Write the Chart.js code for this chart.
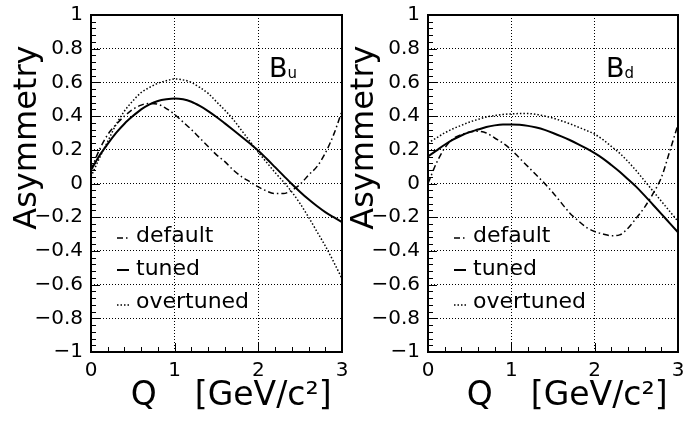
<!DOCTYPE html>
<html lang="en">
<head>
<meta charset="UTF-8">
<title>Asymmetry vs Q</title>
<script src="https://cdn.jsdelivr.net/npm/chart.js"></script>
<style>
  html, body { margin: 0; padding: 0; background: #fff; }
  .janela { position: relative; width: 684px; height: 424px; overflow: hidden; }
  #chartBu { position: absolute; left: 0; top: 0; }
  #chartBd { position: absolute; left: 337px; top: 0; }
</style>
</head>
<body>
<div class="janela">
  <canvas id="chartBu" width="350" height="424"></canvas>
  <canvas id="chartBd" width="347" height="424"></canvas>
</div>

<script>
var qValues = [0, 0.1, 0.2, 0.3, 0.4, 0.5, 0.6, 0.7, 0.8, 0.9,
               1.0, 1.1, 1.2, 1.3, 1.4, 1.5, 1.6, 1.7, 1.8, 1.9,
               2.0, 2.1, 2.2, 2.3, 2.4, 2.5, 2.6, 2.7, 2.8, 2.9, 3.0];

// B_u panel
var buDefault   = [0.08, 0.20, 0.29, 0.35, 0.40, 0.44, 0.465, 0.475, 0.47, 0.445,
                   0.41, 0.365, 0.32, 0.27, 0.22, 0.17, 0.13, 0.08, 0.04, 0.01,
                   -0.02, -0.045, -0.06, -0.06, -0.04, -0.005, 0.05, 0.10, 0.18, 0.29, 0.43];
var buTuned     = [0.08, 0.165, 0.235, 0.30, 0.355, 0.40, 0.44, 0.47, 0.49, 0.50,
                   0.505, 0.50, 0.485, 0.46, 0.43, 0.395, 0.357, 0.318, 0.278, 0.237,
                   0.195, 0.147, 0.097, 0.047, -0.003, -0.05, -0.094, -0.134, -0.17, -0.20, -0.23];
var buOvertuned = [0.04, 0.15, 0.25, 0.35, 0.43, 0.49, 0.54, 0.57, 0.595, 0.61,
                   0.62, 0.615, 0.60, 0.57, 0.535, 0.485, 0.435, 0.38, 0.315, 0.25,
                   0.185, 0.125, 0.065, 0.01, -0.05, -0.12, -0.20, -0.285, -0.37, -0.465, -0.565];

// B_d panel
var bdDefault   = [0.0, 0.12, 0.21, 0.265, 0.29, 0.305, 0.31, 0.30, 0.27, 0.24,
                   0.20, 0.15, 0.10, 0.05, 0.0, -0.055, -0.115, -0.175, -0.22, -0.26,
                   -0.285, -0.30, -0.31, -0.305, -0.265, -0.205, -0.14, -0.06, 0.035, 0.19, 0.35];
var bdTuned     = [0.16, 0.195, 0.23, 0.26, 0.285, 0.305, 0.32, 0.335, 0.345, 0.35,
                   0.35, 0.348, 0.342, 0.332, 0.318, 0.30, 0.28, 0.258, 0.234, 0.208,
                   0.18, 0.148, 0.11, 0.07, 0.025, -0.02, -0.072, -0.126, -0.18, -0.235, -0.29];
var bdOvertuned = [0.24, 0.27, 0.30, 0.325, 0.345, 0.365, 0.38, 0.395, 0.403, 0.41,
                   0.413, 0.415, 0.415, 0.41, 0.40, 0.388, 0.372, 0.355, 0.335, 0.315,
                   0.293, 0.26, 0.22, 0.18, 0.13, 0.075, 0.015, -0.045, -0.105, -0.165, -0.225];

var xTicks = [0, 1, 2, 3];
var yTicks = [-1, -0.8, -0.6, -0.4, -0.2, 0, 0.2, 0.4, 0.6, 0.8, 1];
var seriesNames = ['default', 'tuned', 'overtuned'];

Chart.defaults.font.family = '"DejaVu Sans", sans-serif';
Chart.defaults.color = '#000';

var lineStyles = {
    'default':   { borderWidth: 1.5, borderDash: [6, 3, 1.5, 3] },
    'tuned':     { borderWidth: 2,   borderDash: [] },
    'overtuned': { borderWidth: 1.5, borderDash: [1.5, 2] }
};

function fmtTick(v) {
    if (v === 0) return '0';
    var s = String(Math.abs(v));
    return v < 0 ? '\u2212' + s : s;
}

// frame, inner tick marks, legend and panel label
var moldura = {
    id: 'moldura',
    afterDraw: function (chart) {
        var ctx = chart.ctx;
        var a = chart.chartArea;
        var x = chart.scales.x, y = chart.scales.y;
        ctx.save();
        ctx.strokeStyle = '#000';
        ctx.lineWidth = 1;
        ctx.setLineDash([]);
        ctx.beginPath();
        for (var i = 0; i <= 50; i++) {
            var py = Math.round(y.getPixelForValue(-1 + i * 0.04)) + 0.5;
            var len = (i % 5 === 0) ? 9 : 5;
            ctx.moveTo(a.left, py);
            ctx.lineTo(a.left + len, py);
        }
        for (var j = 0; j <= 15; j++) {
            var px = Math.round(x.getPixelForValue(j * 0.2)) + 0.5;
            var len2 = (j % 5 === 0) ? 9 : 5;
            ctx.moveTo(px, a.bottom);
            ctx.lineTo(px, a.bottom - len2);
        }
        ctx.stroke();

        ctx.lineWidth = 2;
        ctx.strokeRect(a.left, a.top, a.right - a.left, a.bottom - a.top);

        // legend
        var base = [227, 260, 293];
        var lift = [4, 5, 3];
        ctx.font = '22px "DejaVu Sans"';
        ctx.fillStyle = '#000';
        ctx.textBaseline = 'alphabetic';
        ctx.textAlign = 'left';
        seriesNames.forEach(function (nome, k) {
            var st = lineStyles[nome];
            var yy = a.top + base[k];
            ctx.save();
            ctx.lineWidth = st.borderWidth;
            ctx.setLineDash(st.borderDash);
            ctx.beginPath();
            ctx.moveTo(a.left + 26, yy - lift[k]);
            ctx.lineTo(a.left + 38, yy - lift[k]);
            ctx.stroke();
            ctx.restore();
            ctx.fillText(nome, a.left + 45, yy);
        });

        // panel label B_u / B_d
        var lbl = chart.options.plugins.moldura.label;
        var lx = a.left + 178, ly = a.top + 62;
        ctx.font = '27px "DejaVu Sans"';
        ctx.fillText(lbl[0], lx, ly);
        var w = ctx.measureText(lbl[0]).width;
        ctx.font = '15px "DejaVu Sans"';
        ctx.fillText(lbl[1], lx + w, ly + 1);
        ctx.restore();
    }
};

function makePanel(id, dados, label, padRight) {
    var datasets = seriesNames.map(function (nome, k) {
        var st = lineStyles[nome];
        return {
            label: nome,
            data: qValues.map(function (q, i) { return { x: q, y: dados[k][i] }; }),
            borderColor: '#000',
            borderWidth: st.borderWidth,
            borderDash: st.borderDash,
            pointRadius: 0,
            fill: false,
            cubicInterpolationMode: 'monotone'
        };
    });

    return new Chart(document.getElementById(id), {
        type: 'line',
        data: { datasets: datasets },
        options: {
            responsive: false,
            animation: false,
            layout: { padding: { top: 15, right: padRight, left: 0, bottom: 0 } },
            plugins: {
                legend: { display: false },
                tooltip: { enabled: false },
                moldura: { label: label }
            },
            scales: {
                x: {
                    type: 'linear',
                    min: 0, max: 3,
                    afterBuildTicks: function (s) { s.ticks = xTicks.map(function (v) { return { value: v }; }); },
                    afterFit: function (s) { s.height = 72; s.paddingLeft = 0; s.paddingRight = 0; },
                    ticks: { font: { size: 20 }, padding: 7, maxRotation: 0, autoSkip: false, color: '#000',
                             callback: function (v) { return fmtTick(v); } },
                    grid: { color: '#000', lineWidth: 1, drawTicks: false },
                    border: { display: false, dash: [1, 2] },
                    title: { display: true, text: 'Q   \u2009[GeV/c\u00B2] ', align: 'end', color: '#000',
                             font: { size: 33 }, padding: { top: 0, bottom: 8 } }
                },
                y: {
                    type: 'linear',
                    min: -1, max: 1,
                    afterBuildTicks: function (s) { s.ticks = yTicks.map(function (v) { return { value: v }; }); },
                    afterFit: function (s) { s.width = 91; s.paddingTop = 0; s.paddingBottom = 0; },
                    ticks: { font: { size: 20 }, padding: 8, color: '#000',
                             callback: function (v) { return fmtTick(v); } },
                    grid: { color: '#000', lineWidth: 1, drawTicks: false },
                    border: { display: false, dash: [1, 2] },
                    title: { display: true, text: 'Asymmetry   ', align: 'end', color: '#000',
                             font: { size: 32 }, padding: { top: 8, bottom: 0 } }
                }
            }
        },
        plugins: [moldura]
    });
}

makePanel('chartBu', [buDefault, buTuned, buOvertuned], ['B', 'u'], 8);
makePanel('chartBd', [bdDefault, bdTuned, bdOvertuned], ['B', 'd'], 6);
</script>
</body>
</html>
